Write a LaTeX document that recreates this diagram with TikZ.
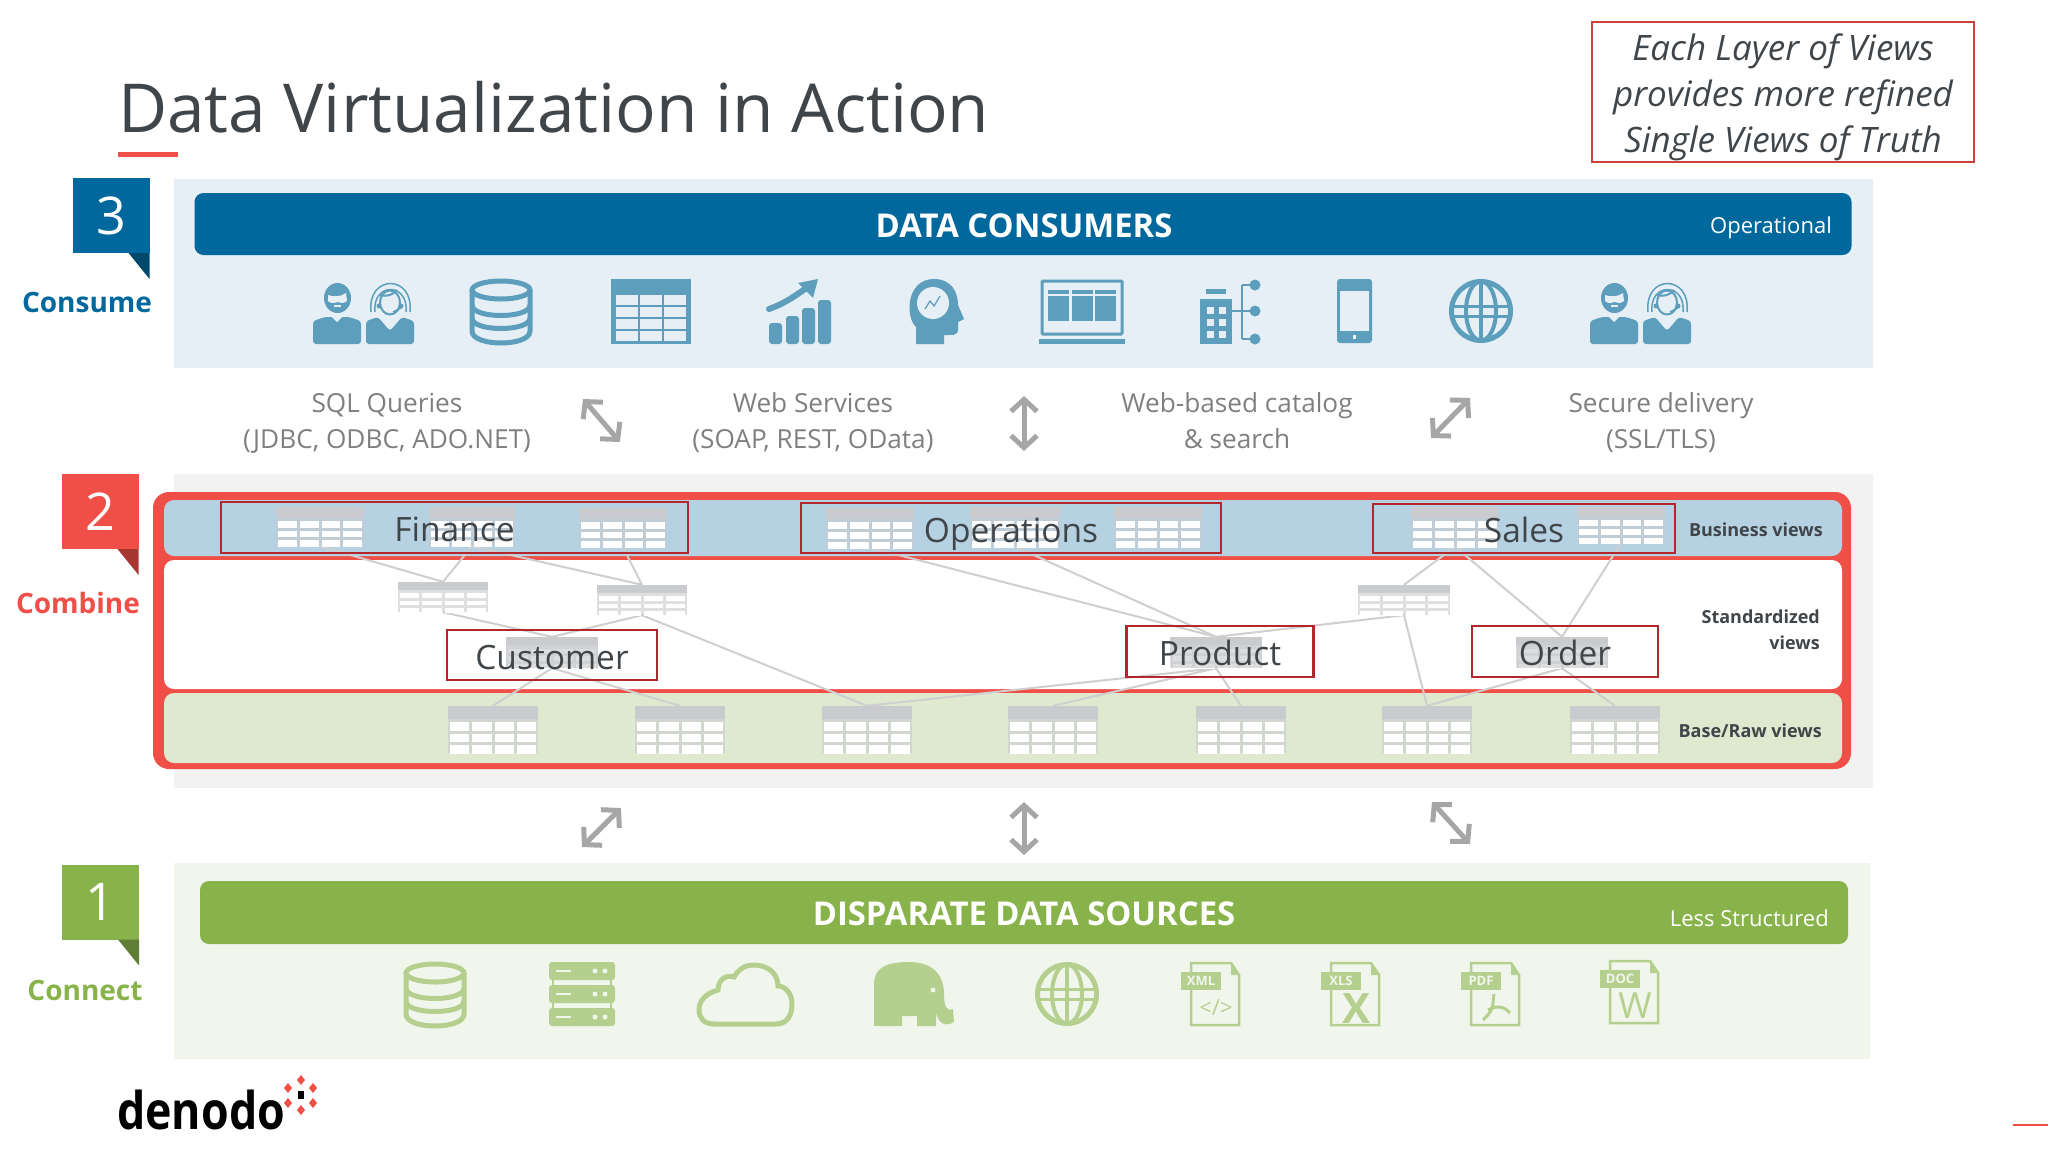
\documentclass[tikz,border=0pt]{standalone}
\usepackage{fontspec}
\setmainfont{Open Sans}
\newfontfamily\logofont[FakeStretch=0.86]{Open Sans}
\usetikzlibrary{arrows.meta,positioning,calc}

\definecolor{barblue}{HTML}{00689C}
\definecolor{iconblue}{HTML}{5D9EBD}
\definecolor{panelblue}{HTML}{E6EFF5}
\definecolor{bandblue}{HTML}{B6D2E2}
\definecolor{bargreen}{HTML}{88B34A}
\definecolor{icongreen}{HTML}{B5CF8F}
\definecolor{panelgreen}{HTML}{F1F6EC}
\definecolor{bandgreen}{HTML}{DFE9CF}
\definecolor{redframe}{HTML}{EF4F47}
\definecolor{boxred}{HTML}{B3262B}
\definecolor{inkgray}{HTML}{404549}
\definecolor{capgray}{HTML}{7F7F7F}
\definecolor{tabgray}{HTML}{C9CBCE}

\pgfdeclarelayer{back}
\pgfdeclarelayer{wires}
\pgfsetlayers{back,wires,main}

\newcommand{\fsz}[1]{\fontsize{#1}{#1}\selectfont}

% name, centre x, centre y, width, height
\newcommand{\vtab}[5]{%
    \pgfmathsetmacro{\cw}{(#4-13)/4}
    \pgfmathsetmacro{\ch}{(#5*0.72-8)/3}
    \node[rectangle, fill=tabgray, fill opacity=0.6, inner sep=0pt, minimum width=#4pt, minimum height=#5pt] (#1) at (#2,#3) {};
    \fill[tabgray] (#1.north west) rectangle ($(#1.north east)+(0,0.28*#5)$);
    \foreach \cx in {0,...,3} {
        \foreach \cy in {0,1,2} {
            \fill[white] ({#2-#4/2+2+\cx*(\cw+3)},{#3-#5/2+0.28*#5+3+\cy*(\ch+3)}) rectangle +(\cw,\ch);
        }
    }
}

\tikzset{
    pics/dbicon/.style={code={
        \draw[#1, line width=5pt] (32,11) ellipse (29 and 9);
        \draw[#1, line width=5pt] (3,11) -- (3,52) .. controls (3,68) and (61,68) .. (61,52) -- (61,11);
        \draw[#1, line width=5pt] (3,26) .. controls (3,40) and (61,40) .. (61,26);
        \draw[#1, line width=5pt] (3,39) .. controls (3,53) and (61,53) .. (61,39);
    }},
    pics/globeicon/.style={code={
        \draw[#1, line width=5pt] (32,32) circle (29.5);
        \draw[#1, line width=4pt] (32,32) ellipse (15 and 29.5);
        \draw[#1, line width=4pt] (32,3) -- (32,62);
        \draw[#1, line width=3pt] (4,27) -- (60,27) (4,37) -- (60,37);
    }},
    pics/peopleicon/.style={code={
        % man
        \fill[#1, rounded corners=3pt] (0,65) -- (0,42) -- (12,38) -- (36,38) -- (48,42) -- (48,65) -- cycle;
        \fill[panelblue] (19,38) -- (24,43) -- (29,38) -- cycle;
        \fill[#1] (24.5,19) ellipse (13.5 and 15);
        \fill[panelblue] (15,16) .. controls (20,18) and (28,18) .. (33,14) -- (34,22) .. controls (30,25) and (28,24) .. (24.5,23) .. controls (21,24) and (18,25) .. (15,22) -- cycle;
        \fill[panelblue] (21,26) rectangle (28,27.5);
        % woman
        \fill[#1, rounded corners=3pt] (53,65) -- (53,42) -- (65,38) -- (77,52) -- (89,38) -- (101,42) -- (101,65) -- cycle;
        \draw[#1, line width=1.5pt] (58,33) .. controls (54,-5) and (101,-5) .. (97,33);
        \draw[#1, line width=1.5pt] (62,33) .. controls (59,3) and (96,3) .. (93,33);
        \draw[#1, line width=2pt] (77,23.5) ellipse (10 and 12);
        \draw[#1, line width=2pt] (67,16) .. controls (74,18) and (80,16) .. (84,11);
        \fill[#1] (66,27) circle (2.5) (88,27) circle (2.5);
        \draw[#1, line width=1.5pt] (88,29) -- (80,33);
    }},
    pics/tableicon/.style={code={
        \fill[#1] (0,0) rectangle (80,65);
        \foreach \cx in {0,1,2} {
            \foreach \cy in {0,1,2,3} {
                \fill[panelblue] ({5+\cx*24},{16+\cy*12}) rectangle +(22,10);
            }
        }
    }},
    pics/charticon/.style={code={
        \foreach \bx/\by in {3/44,20/37,36/29,52/21} {
            \fill[#1, rounded corners=3pt] (\bx,\by) rectangle ({\bx+13},65);
        }
        \draw[#1, line width=6pt, line cap=round] (3,30) .. controls (20,24) and (30,16) .. (42,8);
        \fill[#1] (32,4) -- (52,0) -- (47,19) -- cycle;
    }},
    pics/headicon/.style={code={
        \fill[#1] (8,65) -- (8,48) .. controls (-3,38) and (-2,0) .. (26,0) .. controls (44,0) and (50,14) .. (50,26) -- (56,40) -- (50,43) -- (50,52) .. controls (49,57) and (42,56) .. (36,56) -- (36,65) -- cycle;
        \fill[panelblue] (25,24) circle (16);
        \draw[#1, line width=1.2pt] (17,30) -- (22,22) -- (26,27) -- (32,17);
    }},
    pics/laptopicon/.style={code={
        \draw[#1, line width=3pt, rounded corners=1pt] (3,2) rectangle (83,55);
        \foreach \cx in {0,1,2} {
            \fill[#1] ({9+\cx*23.5},11) rectangle +(21,31);
            \fill[panelblue] ({9+\cx*23.5},15) rectangle +(21,2);
        }
        \fill[#1] (0,60) rectangle (86,65);
    }},
    pics/orgicon/.style={code={
        \fill[#1] (0,20) rectangle (32,65);
        \fill[#1] (6,10) rectangle (26,15);
        \foreach \cx in {0,1} {
            \foreach \cy in {0,1,2} {
                \fill[panelblue] ({7+\cx*12},{28+\cy*12}) rectangle +(7,7);
            }
        }
        \draw[#1, line width=2pt] (32,32) -- (54,32) (42,6) -- (42,60) (42,6) -- (54,6) (42,60) -- (54,60);
        \fill[#1] (55,6) circle (5.5) (55,32) circle (5.5) (55,60) circle (5.5);
    }},
    pics/phoneicon/.style={code={
        \fill[#1, rounded corners=3pt] (0,0) rectangle (35,64);
        \fill[panelblue] (3,12) rectangle (32,52);
        \fill[panelblue] (16,56) rectangle (19,60);
    }},
    pics/servericon/.style={code={
        \foreach \sy in {0,23,46} {
            \fill[#1, rounded corners=3pt] (0,\sy) rectangle (66,{\sy+18});
            \fill[panelgreen] (7,{\sy+8}) rectangle (22,{\sy+10});
            \fill[panelgreen] (46,{\sy+9}) circle (2.5) (56,{\sy+9}) circle (2.5);
        }
        \draw[#1, line width=2pt] (4,18) -- (4,46) (62,18) -- (62,46);
    }},
    pics/cloudicon/.style={code={
        \draw[#1, line width=5pt] (18,62) -- (80,62) .. controls (92,62) and (96,52) .. (96,42) .. controls (96,30) and (88,24) .. (82,24) .. controls (82,10) and (70,3) .. (58,3) .. controls (48,3) and (42,8) .. (38,15) .. controls (30,12) and (22,18) .. (22,28) .. controls (8,32) and (3,40) .. (3,48) .. controls (3,56) and (8,62) .. (18,62) -- cycle;
    }},
    pics/elephanticon/.style={code={
        \fill[#1] (0,64) -- (0,22) .. controls (0,6) and (12,0) .. (35,0) .. controls (60,0) and (70,14) .. (70,32) .. controls (70,46) and (74,50) .. (79,47) -- (80,60) .. controls (70,66) and (64,60) .. (62,50) -- (62,64) -- (43,64) -- (43,54) -- (28,54) -- (28,64) -- cycle;
        \fill[panelgreen] (59,28) circle (2.5);
    }},
    pics/fileicon/.style 2 args={code={
        \draw[icongreen, line width=2.5pt] (10,1) -- (50,1) -- (58,13) -- (58,63) -- (10,63) -- cycle;
        \fill[icongreen] (50,0) -- (59,13) -- (50,13) -- cycle;
        \node[rectangle, fill=icongreen, text=panelgreen, inner sep=0pt, minimum width=40pt, minimum height=18pt, font=\fsz{13}\bfseries] (-tag) at (20,19) {#1};
        \node[text=icongreen, inner sep=0pt] (-mark) at (35,46) {#2};
    }},
}

\begin{document}
\begin{tikzpicture}[
                x=1pt, y=-1pt,
                badge/.style={rectangle, text=white, inner sep=0pt, minimum width=77pt, minimum height=75pt, font=\fsz{52}},
                steplabel/.style={inner sep=0pt, font=\fsz{28}\bfseries},
                bar/.style={rectangle, rounded corners=9pt, inner sep=0pt},
                bartitle/.style={text=white, inner sep=0pt, font=\fsz{32.8}\bfseries},
                barnote/.style={text=white, inner sep=0pt, font=\fsz{22}, anchor=east},
                caption/.style={text=capgray, align=center, inner sep=0pt, font=\fontsize{26.2}{36}\selectfont},
                dbl/.style={{Straight Barb[length=12pt,width=26pt]}-{Straight Barb[length=12pt,width=26pt]}, line width=5pt, color=gray!70},
                wire/.style={draw=gray!38, line width=2pt},
                viewbox/.style={rectangle, draw=boxred, line width=2.5pt, inner sep=0pt, text=inkgray, text height=32pt, text depth=4pt, font=\fsz{33.5}},
                viewnote/.style={text=inkgray, inner sep=0pt, font=\fontsize{18}{26}\selectfont\bfseries, align=right, anchor=east},
                band/.style={rectangle, rounded corners=10pt, inner sep=0pt},
            ]
            \useasboundingbox (0,0) rectangle (2048,1152);

            % header
            \node[anchor=base west, inner sep=0pt, text=inkgray, font=\fsz{67.5}] (title) at (118,132) {Data Virtualization in Action};
            \fill[redframe] (118,152) rectangle (178,157);
            \node[rectangle, draw=redframe!85!black, line width=2pt, minimum width=382pt, minimum height=140pt, inner sep=0pt] (note) at (1783,92) {};
            \node[inner sep=0pt, align=center, text=inkgray, font=\fontsize{35}{46}\selectfont\itshape] (notetext) at (1783,97) {Each Layer of Views\\provides more refined\\Single Views of Truth};

            % consume
            \fill[panelblue] (174,179) rectangle (1873,368);
            \node[badge, fill=barblue] (n3) at (111,215.5) {3};
            \fill[barblue!70!black] (n3.south east) -- ++(-21,0) -- ++(21,26) -- cycle;
            \node[steplabel, text=barblue] (consume) at (87,302) {Consume};
            \node[bar, fill=barblue, minimum width=1657pt, minimum height=62pt] (dcbar) at (1023,224) {};
            \node[bartitle] (dctitle) at (1024,226) {DATA CONSUMERS};
            \node[barnote] (dcnote) at (1832,228) {Operational};

            \pic at (313,279) {peopleicon=iconblue};
            \pic at (469,279) {dbicon=iconblue};
            \pic at (611,279) {tableicon=iconblue};
            \pic at (766,279) {charticon=iconblue};
            \pic at (908,279) {headicon=iconblue};
            \pic at (1039,279) {laptopicon=iconblue};
            \pic at (1200,279) {orgicon=iconblue};
            \pic at (1337,279) {phoneicon=iconblue};
            \pic at (1449,279) {globeicon=iconblue};
            \pic at (1590,279) {peopleicon=iconblue};

            \node[caption] (sql) at (387,423) {SQL Queries\\(JDBC, ODBC, ADO.NET)};
            \node[caption] (web) at (813,423) {Web Services\\(SOAP, REST, OData)};
            \node[caption] (cat) at (1237,421) {Web-based catalog\\\& search};
            \node[caption] (ssl) at (1661,423) {Secure delivery\\(SSL/TLS)};

            \coordinate (ua1) at (583,399);
            \coordinate (ub1) at (620,442);
            \coordinate (ua2) at (1024,396);
            \coordinate (ub2) at (1024,451);
            \coordinate (ua3) at (1431,438);
            \coordinate (ub3) at (1470,398);
            \draw[dbl] (ua1) -- (ub1);
            \draw[dbl] (ua2) -- (ub2);
            \draw[dbl] (ua3) -- (ub3);

            % combine
            \begin{pgfonlayer}{back}
                \fill[gray!10] (174,474) rectangle (1873,788);
                \fill[redframe, rounded corners=16pt] (153,492) rectangle (1851,769);
                \node[band, fill=bandblue, minimum width=1678pt, minimum height=56pt] (bizband) at (1003,528) {};
                \node[band, fill=white, minimum width=1678pt, minimum height=129pt] (stdband) at (1003,624.5) {};
                \node[band, fill=bandgreen, minimum width=1678pt, minimum height=70pt] (rawband) at (1003,728) {};
            \end{pgfonlayer}
            \node[badge, fill=redframe] (n2) at (100,511.5) {2};
            \fill[redframe!70!black] (n2.south east) -- ++(-21,0) -- ++(21,26) -- cycle;
            \node[steplabel, text=redframe] (combine) at (78,603) {Combine};

            \vtab{t1}{320}{526.5}{88}{39}
            \vtab{t2}{472}{526.5}{86}{39}
            \vtab{t3}{623}{527.5}{88}{39}
            \vtab{t4}{870}{528}{88}{39}
            \vtab{t5}{1015}{527}{90}{39}
            \vtab{t6}{1158}{527}{88}{39}
            \vtab{t7}{1455}{527}{88}{39}
            \vtab{t8}{1621}{525}{88}{36}

            \vtab{s1}{443}{597}{90}{30}
            \vtab{s2}{642}{600}{90}{30}
            \vtab{s3}{1404}{600}{92}{30}

            \vtab{cust}{552}{652.5}{92}{31}
            \vtab{prod}{1216}{652.5}{91}{31}
            \vtab{ordr}{1562}{652.5}{91}{31}
            \foreach \h in {cust,prod,ordr} {
                \fill[tabgray, fill opacity=0.65] (\h.north west) rectangle (\h.south east);
            }

            \foreach \n/\x in {1/493,2/680,3/867,4/1053,5/1241,6/1427,7/1615} {
                \vtab{b\n}{\x}{729.5}{90}{47}
            }

            \begin{pgfonlayer}{wires}
                \foreach \a/\b in {t1/s1,t2/s1,t2/s2,t3/s2,s1/cust,s2/cust,s2/b3,cust/b1,cust/b2,t4/prod,t5/prod,s3/prod,prod/b3,prod/b4,prod/b5,t7/s3,t7/ordr,t8/ordr,s3/b6,ordr/b6,ordr/b7} {
                    \draw[wire] (\a.south) -- (\b.north);
                }
            \end{pgfonlayer}

            \node[viewbox, minimum width=467pt, minimum height=51pt] (finance) at (454.5,527.5) {Finance};
            \node[viewbox, minimum width=420pt, minimum height=50pt] (operations) at (1011,528) {Operations};
            \node[viewbox, minimum width=302pt, minimum height=49pt] (sales) at (1524,528.5) {Sales};
            \node[viewbox, minimum width=210pt, minimum height=50pt] (customer) at (552,655) {Customer};
            \node[viewbox, minimum width=187pt, minimum height=51pt] (product) at (1220,651.5) {Product};
            \node[viewbox, minimum width=186pt, minimum height=51pt] (order) at (1565,651.5) {Order};

            \node[viewnote] (bizlabel) at (1823,530) {Business views};
            \node[viewnote] (stdlabel) at (1820,630) {Standardized\\views};
            \node[viewnote] (rawlabel) at (1822,731) {Base/Raw views};

            \coordinate (la1) at (582,847);
            \coordinate (lb1) at (621,808);
            \coordinate (la2) at (1024,802);
            \coordinate (lb2) at (1024,855);
            \coordinate (la3) at (1432,802);
            \coordinate (lb3) at (1470,844);
            \draw[dbl] (la1) -- (lb1);
            \draw[dbl] (la2) -- (lb2);
            \draw[dbl] (la3) -- (lb3);

            % connect
            \fill[panelgreen] (174,863) rectangle (1870,1059);
            \node[badge, fill=bargreen] (n1) at (100.5,902) {1};
            \fill[bargreen!70!black] (n1.south east) -- ++(-21,0) -- ++(21,26) -- cycle;
            \node[steplabel, text=bargreen] (connect) at (85,990) {Connect};
            \node[bar, fill=bargreen, minimum width=1648pt, minimum height=63pt] (dsbar) at (1024,912.5) {};
            \node[bartitle] (dstitle) at (1024,914) {DISPARATE DATA SOURCES};
            \node[barnote] (dsnote) at (1829,918) {Less Structured};

            \pic at (403,962) {dbicon=icongreen};
            \pic at (549,962) {servericon=icongreen};
            \pic at (696,962) {cloudicon=icongreen};
            \pic at (874,962) {elephanticon=icongreen};
            \pic at (1035,962) {globeicon=icongreen};
            \pic (xml) at (1181,962) {fileicon={XML}{\fsz{22}</>}};
            \pic (xls) at (1321,962) {fileicon={XLS}{\fsz{42}\bfseries X}};
            \pic (pdf) at (1461,962) {fileicon={PDF}{}};
            \draw[icongreen, line width=3pt] (1494,994) .. controls (1492,1004) and (1496,1008) .. (1483,1020);
            \draw[icongreen, line width=3pt] (1488,1010) .. controls (1498,1004) and (1506,1008) .. (1510,1013);
            \pic (doc) at (1600,960) {fileicon={DOC}{\fsz{36}W}};

            % logo
            \node[anchor=base west, inner sep=0pt, text=black, font=\fsz{52}\logofont\bfseries] (logo) at (117,1129) {denodo};
            \foreach \dx/\dy in {301/1080,288/1088,313/1088,288/1103,313/1103,301/1110} {
                \fill[redframe] (\dx,{\dy-5}) -- ({\dx+4},\dy) -- (\dx,{\dy+5}) -- ({\dx-4},\dy) -- cycle;
            }
            \fill[black] (298,1091) rectangle (304,1099);
            \fill[redframe] (2013,1124) rectangle (2048,1126);
        \end{tikzpicture}
\end{document}
